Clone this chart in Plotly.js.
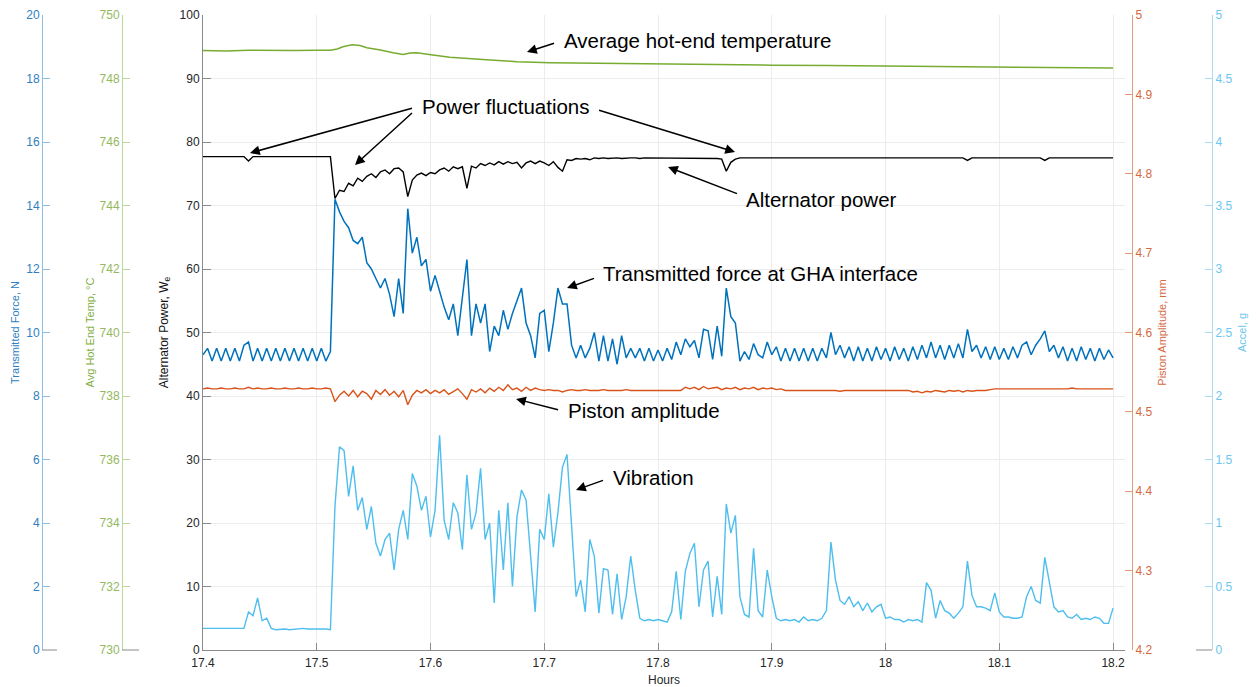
<!DOCTYPE html>
<html><head><meta charset="utf-8">
<script src="https://cdn.plot.ly/plotly-3.0.1.min.js"></script>
<style>html,body{margin:0;padding:0;background:#fff}#chart{width:1258px;height:687px}</style>
</head><body><div id="chart"></div>
<script>
// ---- data ----
const hours = [
17.400,17.404,17.408,17.412,17.416,17.420,17.424,17.428,17.432,17.436,17.440,17.444,17.448,17.452,17.456,17.460,17.464,17.468,17.472,17.476,17.480,17.484,17.488,17.492,17.496,
17.500,17.504,17.508,17.512,17.516,17.520,17.524,17.528,17.532,17.536,17.540,17.544,17.548,17.552,17.556,17.560,17.564,17.568,17.572,17.576,17.580,17.584,17.588,17.592,17.596,
17.600,17.604,17.608,17.612,17.616,17.620,17.624,17.628,17.632,17.636,17.640,17.644,17.648,17.652,17.656,17.660,17.664,17.668,17.672,17.676,17.680,17.684,17.688,17.692,17.696,
17.700,17.704,17.708,17.712,17.716,17.720,17.724,17.728,17.732,17.736,17.740,17.744,17.748,17.752,17.756,17.760,17.764,17.768,17.772,17.776,17.780,17.784,17.788,17.792,17.796,
17.800,17.804,17.808,17.812,17.816,17.820,17.824,17.828,17.832,17.836,17.840,17.844,17.848,17.852,17.856,17.860,17.864,17.868,17.872,17.876,17.880,17.884,17.888,17.892,17.896,
17.900,17.904,17.908,17.912,17.916,17.920,17.924,17.928,17.932,17.936,17.940,17.944,17.948,17.952,17.956,17.960,17.964,17.968,17.972,17.976,17.980,17.984,17.988,17.992,17.996,
18.000,18.004,18.008,18.012,18.016,18.020,18.024,18.028,18.032,18.036,18.040,18.044,18.048,18.052,18.056,18.060,18.064,18.068,18.072,18.076,18.080,18.084,18.088,18.092,18.096,
18.100,18.104,18.108,18.112,18.116,18.120,18.124,18.128,18.132,18.136,18.140,18.144,18.148,18.152,18.156,18.160,18.164,18.168,18.172,18.176,18.180,18.184,18.188,18.192,18.196,
18.200];

const transmittedForce = [
9.3,9.5,9.1,9.5,9.1,9.5,9.1,9.5,9.1,9.6,9.7,9.1,9.5,9.1,9.5,9.1,9.5,9.1,9.5,9.1,9.5,9.1,9.5,9.1,9.5,
9.1,9.5,9.1,9.4,14.2,13.8,13.5,13.3,12.9,12.8,13.0,12.2,12.0,11.7,11.4,11.7,11.2,10.5,11.7,10.6,13.9,12.5,13.0,12.1,12.3,
11.3,11.8,11.3,10.8,10.4,10.9,9.9,11.1,12.3,9.9,10.9,10.3,10.9,9.4,10.2,9.9,10.7,10.1,10.6,11.0,11.4,10.3,9.9,9.2,10.6,
10.7,9.4,10.3,11.4,10.9,10.9,9.6,9.2,9.6,9.2,9.5,10.0,9.1,9.9,9.1,9.8,9.0,9.9,9.2,9.5,9.2,9.5,9.1,9.5,9.1,
9.45,9.1,9.5,9.15,9.7,9.3,9.8,9.55,9.75,9.2,10.1,10.05,9.15,10.2,9.25,11.4,10.5,10.3,9.1,9.4,9.15,9.65,9.3,9.2,9.7,
9.3,9.55,9.1,9.5,9.1,9.5,9.1,9.5,9.1,9.5,9.1,9.5,9.2,10.0,9.3,9.6,9.2,9.55,9.1,9.55,9.1,9.5,9.1,9.55,9.15,
9.5,9.1,9.55,9.15,9.5,9.1,9.55,9.15,9.6,9.2,9.7,9.2,9.6,9.15,9.6,9.2,9.65,9.2,10.1,9.4,9.6,9.2,9.55,9.15,9.55,
9.15,9.5,9.15,9.55,9.2,9.6,9.7,9.3,9.6,9.8,10.05,9.4,9.6,9.2,9.55,9.1,9.5,9.1,9.55,9.15,9.5,9.1,9.5,9.15,9.45,
9.2];

const alternatorPower = [
77.7,77.7,77.7,77.7,77.7,77.7,77.7,77.7,77.7,77.7,77.0,77.7,77.7,77.7,77.7,77.7,77.7,77.7,77.7,77.7,77.7,77.7,77.7,77.7,77.7,
77.7,77.7,77.7,77.7,71.1,72.4,72.2,73.5,73.1,74.3,73.8,74.6,75.0,74.4,75.3,75.6,75.0,75.8,75.9,75.3,71.4,74.0,74.8,75.1,74.7,
75.2,75.0,75.6,75.9,75.4,76.1,75.8,76.1,72.7,76.2,75.9,76.6,76.3,76.7,76.4,76.9,76.5,76.9,76.6,76.8,75.9,76.7,77.0,76.6,77.0,
76.7,76.3,76.9,76.0,75.4,77.2,77.1,77.4,77.3,77.4,77.2,77.5,77.4,77.5,77.4,77.5,77.5,77.4,77.5,77.5,77.5,77.4,77.5,77.5,77.5,
77.5,77.5,77.4,77.5,77.5,77.5,77.5,77.4,77.5,77.5,77.5,77.5,77.5,77.4,77.3,75.4,76.8,77.3,77.5,77.5,77.5,77.5,77.5,77.5,77.5,
77.5,77.5,77.5,77.5,77.5,77.5,77.5,77.5,77.5,77.5,77.5,77.5,77.5,77.5,77.5,77.5,77.5,77.5,77.5,77.5,77.5,77.5,77.5,77.5,77.5,
77.5,77.5,77.5,77.5,77.5,77.5,77.5,77.5,77.5,77.5,77.5,77.5,77.5,77.5,77.5,77.5,77.5,77.5,77.1,77.5,77.5,77.5,77.5,77.5,77.5,
77.5,77.5,77.5,77.5,77.5,77.5,77.5,77.5,77.5,77.5,77.1,77.5,77.5,77.5,77.5,77.5,77.5,77.5,77.5,77.5,77.5,77.5,77.5,77.5,77.5,
77.5];

const pistonAmplitude = [
4.529,4.530,4.529,4.529,4.530,4.529,4.529,4.530,4.529,4.529,4.531,4.529,4.530,4.529,4.529,4.530,4.529,4.529,4.530,4.529,4.529,4.530,4.529,4.529,4.530,
4.529,4.529,4.530,4.529,4.513,4.521,4.526,4.520,4.527,4.519,4.526,4.523,4.516,4.527,4.522,4.528,4.521,4.526,4.519,4.527,4.509,4.521,4.527,4.524,4.528,
4.523,4.527,4.524,4.528,4.522,4.526,4.529,4.523,4.516,4.528,4.525,4.529,4.524,4.530,4.526,4.531,4.527,4.534,4.528,4.530,4.526,4.531,4.527,4.530,4.528,
4.527,4.528,4.527,4.527,4.525,4.527,4.528,4.527,4.527,4.528,4.527,4.527,4.527,4.528,4.527,4.527,4.527,4.527,4.528,4.527,4.527,4.527,4.527,4.527,4.527,
4.527,4.527,4.527,4.527,4.527,4.527,4.531,4.529,4.531,4.528,4.532,4.529,4.530,4.531,4.528,4.530,4.529,4.531,4.528,4.530,4.529,4.531,4.528,4.530,4.529,
4.530,4.528,4.529,4.527,4.527,4.527,4.527,4.527,4.527,4.527,4.527,4.527,4.527,4.527,4.527,4.526,4.527,4.527,4.527,4.527,4.527,4.527,4.527,4.527,4.527,
4.527,4.527,4.527,4.527,4.527,4.527,4.525,4.526,4.524,4.526,4.525,4.527,4.526,4.525,4.527,4.526,4.527,4.525,4.527,4.526,4.527,4.527,4.527,4.528,4.529,
4.529,4.529,4.529,4.529,4.529,4.529,4.529,4.529,4.529,4.529,4.529,4.529,4.529,4.529,4.529,4.529,4.530,4.529,4.529,4.529,4.529,4.529,4.529,4.529,4.529,
4.529];

const accel = [
0.17,0.17,0.165,0.17,0.17,0.165,0.17,0.165,0.17,0.17,0.30,0.27,0.41,0.23,0.25,0.17,0.16,0.165,0.165,0.16,0.165,0.165,0.17,0.165,0.165,
0.17,0.165,0.165,0.16,1.13,1.6,1.57,1.21,1.45,1.10,1.2,0.95,1.13,0.84,0.74,0.87,0.92,0.63,0.95,1.1,0.87,1.39,1.29,1.1,1.21,
0.89,1.1,1.69,1.02,0.87,1.16,1.08,0.79,1.38,0.95,1.08,1.43,0.87,1.0,0.37,1.1,0.63,1.16,0.5,1.05,1.26,1.18,0.74,0.3,0.95,
0.87,1.23,0.81,1.08,1.44,1.54,0.95,0.42,0.55,0.3,0.87,0.74,0.29,0.64,0.63,0.28,0.6,0.24,0.42,0.74,0.47,0.25,0.23,0.24,0.23,
0.24,0.23,0.22,0.30,0.62,0.24,0.62,0.76,0.84,0.34,0.63,0.70,0.26,0.58,0.28,1.15,0.92,1.06,0.42,0.28,0.26,0.80,0.31,0.26,0.63,
0.42,0.25,0.23,0.24,0.23,0.24,0.22,0.26,0.23,0.24,0.23,0.25,0.31,0.85,0.55,0.39,0.36,0.42,0.34,0.38,0.31,0.37,0.30,0.34,0.36,
0.25,0.26,0.24,0.24,0.22,0.24,0.23,0.24,0.22,0.53,0.47,0.25,0.39,0.31,0.29,0.25,0.29,0.34,0.70,0.43,0.34,0.34,0.33,0.31,0.45,
0.30,0.26,0.26,0.25,0.25,0.26,0.42,0.50,0.39,0.37,0.73,0.53,0.34,0.30,0.31,0.26,0.25,0.28,0.24,0.25,0.24,0.26,0.25,0.21,0.21,
0.33];

const tempHours = [17.400,17.420,17.440,17.460,17.480,17.500,17.512,17.518,17.523,17.531,17.538,17.544,17.556,17.567,17.576,17.582,17.588,17.602,17.617,17.646,17.676,17.705,17.749,17.800,17.850,17.900,17.950,18.000,18.050,18.100,18.150,18.200];
const hotEndTemp = [748.88,748.87,748.89,748.88,748.88,748.89,748.89,748.93,749.00,749.06,749.04,748.97,748.90,748.81,748.76,748.80,748.81,748.74,748.67,748.60,748.53,748.50,748.48,748.45,748.43,748.42,748.41,748.39,748.38,748.36,748.35,748.33];

const xTickVals = [17.4,17.5,17.6,17.7,17.8,17.9,18.0,18.1,18.2];
const xTickText = ['17.4','17.5','17.6','17.7','17.8','17.9','18','18.1','18.2'];

// ---- layout helpers (pixel -> paper) ----
const W = 1258, H = 687;
const fx = p => p / W;
const FONT = 'Liberation Sans, Arial, Helvetica, sans-serif';

const C = {
  force: '#0072BD', temp: '#77AC30', power: '#000000', piston: '#D95319', accel: '#4DBEEE'
};

const traces = [
  {x: hours, y: accel, type: 'scatter', mode: 'lines', line: {color: C.accel, width: 1.4}, xaxis: 'x', yaxis: 'y5', name: 'Accel'},
  {x: hours, y: transmittedForce, type: 'scatter', mode: 'lines', line: {color: C.force, width: 1.5}, xaxis: 'x', yaxis: 'y2', name: 'Transmitted force'},
  {x: hours, y: pistonAmplitude, type: 'scatter', mode: 'lines', line: {color: C.piston, width: 1.4}, xaxis: 'x', yaxis: 'y4', name: 'Piston amplitude'},
  {x: tempHours, y: hotEndTemp, type: 'scatter', mode: 'lines', line: {color: C.temp, width: 1.5}, xaxis: 'x', yaxis: 'y3', name: 'Hot end temp'},
  {x: hours, y: alternatorPower, type: 'scatter', mode: 'lines', line: {color: C.power, width: 1.4}, xaxis: 'x', yaxis: 'y6', name: 'Alternator power'}
];

function freeAxis(o) {
  return Object.assign({
    overlaying: 'y', anchor: 'free', showgrid: false, zeroline: false,
    ticks: 'inside', ticklen: 7, showline: true, linewidth: 1,
    fixedrange: true
  }, o);
}

const layout = {
  width: W, height: H,
  margin: {l: 0, r: 0, t: 0, b: 0},
  paper_bgcolor: '#fff', plot_bgcolor: '#fff',
  showlegend: false,
  font: {family: FONT, size: 12, color: '#262626'},
  xaxis: {
    domain: [fx(203), fx(1125)], range: [17.4, 18.2105],
    tickvals: xTickVals, ticktext: xTickText,
    ticks: 'inside', ticklen: 7, tickcolor: '#8a8a8a',
    showline: true, linecolor: '#8a8a8a', linewidth: 1,
    showgrid: true, gridcolor: '#ececec', gridwidth: 1, zeroline: false,
    tickfont: {size: 12, color: '#262626'}, ticklabelstandoff: 2,
    title: {text: 'Hours', font: {size: 12, color: '#262626'}, standoff: 7},
    anchor: 'y'
  },
  yaxis: {
    domain: [1 - 650 / H, 1 - 15 / H], range: [0, 100], dtick: 10, tick0: 0,
    ticks: 'inside', ticklen: 8, tickcolor: '#8a8a8a',
    showline: true, linecolor: '#8a8a8a', linewidth: 1,
    showgrid: true, gridcolor: '#ececec', zeroline: false,
    tickfont: {size: 12, color: '#262626'},
    title: {text: 'Alternator Power, W<sub>e</sub>', font: {size: 12, color: '#111'}, standoff: 8}
  },
  yaxis6: {overlaying: 'y', anchor: 'x', range: [0, 100], visible: false, showgrid: false, zeroline: false},
  yaxis2: freeAxis({
    position: fx(42), side: 'left', range: [0, 20], dtick: 2, tick0: 0,
    linecolor: '#8dbde3', tickcolor: '#8dbde3',
    tickfont: {size: 12, color: '#2f7fc0'},
    title: {text: 'Transmitted Force, N', font: {size: 11, color: '#2f7fc0'}, standoff: 3}
  }),
  yaxis3: freeAxis({
    position: fx(122), side: 'left', range: [730, 750], dtick: 2, tick0: 730,
    linecolor: '#bdd79a', tickcolor: '#bdd79a',
    tickfont: {size: 12, color: '#93b95e'},
    title: {text: 'Avg Hot End Temp, °C', font: {size: 11, color: '#7fae3f'}, standoff: 1}
  }),
  yaxis4: freeAxis({
    position: fx(1132), side: 'right', range: [4.2, 5], dtick: 0.1, tick0: 4.2,
    linecolor: '#e39a78', tickcolor: '#e39a78',
    tickfont: {size: 12, color: '#d4693f'},
    title: {text: 'Piston Amplitude, mm', font: {size: 11, color: '#d4693f'}, standoff: 6}
  }),
  yaxis5: freeAxis({
    position: fx(1212), side: 'right', range: [0, 5], dtick: 0.5, tick0: 0,
    linecolor: '#a9dbf3', tickcolor: '#a9dbf3',
    tickfont: {size: 12, color: '#6cc6ee'},
    title: {text: 'Accel, g', font: {size: 11, color: '#6cc6ee'}, standoff: 6}
  }),
  shapes: [
    {type: 'line', xref: 'paper', yref: 'paper', x0: fx(42), x1: fx(57), y0: 1 - 650 / H, y1: 1 - 650 / H, line: {color: '#8a8a8a', width: 1}},
    {type: 'line', xref: 'paper', yref: 'paper', x0: fx(122), x1: fx(139), y0: 1 - 650 / H, y1: 1 - 650 / H, line: {color: '#8a8a8a', width: 1}},
    {type: 'line', xref: 'paper', yref: 'paper', x0: fx(1196), x1: fx(1212), y0: 1 - 650 / H, y1: 1 - 650 / H, line: {color: '#8a8a8a', width: 1}}
  ],
  annotations: []
};

// labels placed in data coordinates of the power axis
const notes = [
  {text: 'Average hot-end temperature', x: 17.7156, y: 96.06},
  {text: 'Power fluctuations', x: 17.5908, y: 85.67},
  {text: 'Alternator power', x: 17.8756, y: 71.02},
  {text: 'Transmitted force at GHA interface', x: 17.7499, y: 59.37},
  {text: 'Piston amplitude', x: 17.7191, y: 37.64},
  {text: 'Vibration', x: 17.7587, y: 27.09}
];
notes.forEach(n => layout.annotations.push({
  text: n.text, x: n.x, y: n.y, xref: 'x', yref: 'y', xanchor: 'left', yanchor: 'middle',
  showarrow: false, font: {family: FONT, size: 20.5, color: '#000'}
}));
const arrows = [
  [17.7095, 95.6, 17.6848, 94.17],
  [17.5846, 85.35, 17.4413, 78.27],
  [17.5846, 84.72, 17.5336, 76.38],
  [17.7473, 85.04, 17.8677, 78.43],
  [17.8703, 71.81, 17.8088, 76.06],
  [17.7446, 58.58, 17.7200, 57.0],
  [17.7130, 37.8, 17.6752, 39.53],
  [17.7525, 26.77, 17.7279, 25.2]
];
arrows.forEach(a => layout.annotations.push({
  text: '\u00a0', font: {size: 2, color: 'rgba(0,0,0,0)'}, borderpad: 0,
  xref: 'x', yref: 'y', axref: 'x', ayref: 'y',
  ax: a[0], ay: a[1], x: a[2], y: a[3],
  showarrow: true, arrowhead: 2, arrowsize: 1.3, arrowwidth: 1.5, arrowcolor: '#000', standoff: 0
}));

Plotly.newPlot('chart', traces, layout, {displayModeBar: false, staticPlot: true});
</script>
</body></html>
